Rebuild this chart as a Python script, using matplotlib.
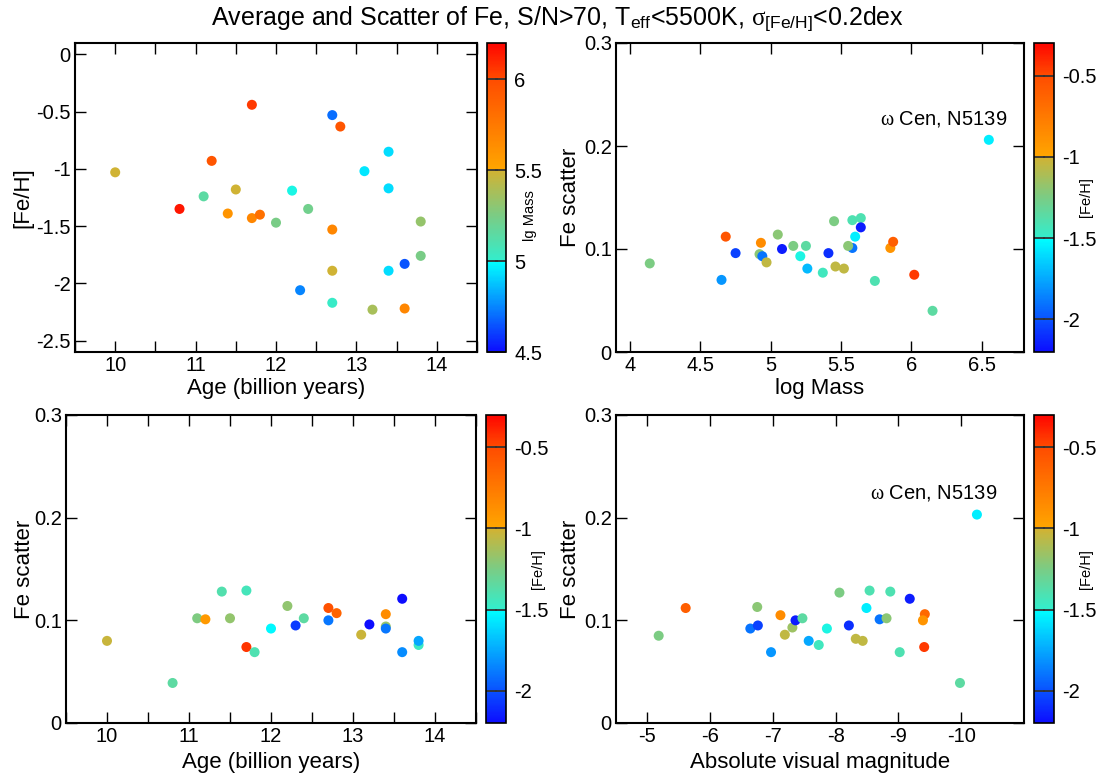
import numpy as np
import matplotlib
matplotlib.use('Agg')
import matplotlib.pyplot as plt
from matplotlib.colors import LinearSegmentedColormap
from matplotlib.ticker import MultipleLocator

plt.rcParams['font.family'] = ['Liberation Sans', 'DejaVu Sans']
plt.rcParams['mathtext.fontset'] = 'custom'
plt.rcParams['mathtext.rm'] = 'Liberation Sans'
plt.rcParams['mathtext.it'] = 'Liberation Serif'

# panel 1: age vs [Fe/H], coloured by lg mass
age1 = [10.0, 10.8, 11.1, 11.2, 11.4, 11.5, 11.7, 11.7, 11.8, 12.0, 12.2, 12.3, 12.4, 12.7,
        12.8, 12.7, 12.7, 12.7, 13.1, 13.2, 13.4, 13.4, 13.4, 13.6, 13.6, 13.8, 13.8]
feh1 = [-1.03, -1.35, -1.24, -0.93, -1.39, -1.18, -0.44, -1.43, -1.40, -1.47, -1.19, -2.06, -1.35, -0.53,
        -0.63, -1.53, -1.89, -2.17, -1.02, -2.23, -0.85, -1.17, -1.89, -2.22, -1.83, -1.46, -1.76]
mass1 = [5.49, 6.15, 5.15, 5.95, 5.6, 5.49, 6.05, 5.68, 5.8, 5.25, 5.0, 4.75, 5.22, 4.7,
         5.95, 5.68, 5.49, 5.02, 4.95, 5.38, 4.93, 4.93, 4.93, 5.68, 4.65, 5.33, 5.25]

# panel 2: log mass vs Fe scatter, coloured by [Fe/H]
mass2 = [4.14, 4.65, 4.68, 4.75, 4.92, 4.93, 4.94, 4.97, 5.05, 5.08, 5.16, 5.25, 5.21, 5.26, 5.37,
         5.41, 5.45, 5.46, 5.52, 5.58, 5.55, 5.58, 5.64, 5.60, 5.64, 5.74, 5.85, 5.87, 6.02, 6.15, 6.55]
sc2 = [0.086, 0.070, 0.112, 0.096, 0.095, 0.106, 0.093, 0.087, 0.114, 0.100, 0.103, 0.103, 0.093, 0.081,
       0.077, 0.096, 0.127, 0.083, 0.081, 0.101, 0.103, 0.128, 0.130, 0.112, 0.121, 0.069, 0.101, 0.107,
       0.075, 0.040, 0.206]
feh2 = [-1.25, -1.8, -0.55, -2.05, -1.2, -0.85, -1.9, -1.05, -1.2, -2.15, -1.25, -1.35, -1.5, -1.7,
        -1.45, -2.1, -1.25, -1.05, -1.05, -1.9, -1.2, -1.4, -1.4, -1.55, -2.15, -1.4, -0.9, -0.6,
        -0.45, -1.35, -1.55]

# panel 3: age vs Fe scatter, coloured by [Fe/H]
age3 = [10.0, 10.8, 11.1, 11.2, 11.4, 11.5, 11.7, 11.7, 11.8, 12.0, 12.2, 12.3, 12.4, 12.7, 12.7,
        12.8, 13.1, 13.2, 13.4, 13.4, 13.4, 13.6, 13.6, 13.8, 13.8]
sc3 = [0.080, 0.039, 0.102, 0.101, 0.128, 0.102, 0.129, 0.074, 0.069, 0.092, 0.114, 0.095, 0.102, 0.112,
       0.100, 0.107, 0.086, 0.096, 0.106, 0.094, 0.092, 0.121, 0.069, 0.076, 0.080]
feh3 = [-1.03, -1.35, -1.24, -0.93, -1.39, -1.18, -1.43, -0.44, -1.40, -1.52, -1.19, -2.06, -1.35, -0.53,
        -1.89, -0.63, -1.02, -2.23, -0.85, -1.17, -1.89, -2.22, -1.83, -1.46, -1.76]

# panel 4: absolute visual magnitude vs Fe scatter, coloured by [Fe/H]
mv4 = [-5.18, -5.61, -6.64, -6.76, -6.75, -6.97, -7.12, -7.19, -7.31, -7.36, -7.47, -7.57, -7.73, -7.86,
       -8.06, -8.21, -8.32, -8.43, -8.54, -8.49, -8.70, -8.81, -8.87, -9.02, -9.18, -9.42, -9.39, -9.41,
       -9.98, -10.25]
sc4 = [0.085, 0.112, 0.092, 0.095, 0.113, 0.069, 0.105, 0.086, 0.093, 0.100, 0.102, 0.080, 0.076, 0.092,
       0.127, 0.095, 0.082, 0.080, 0.129, 0.112, 0.101, 0.102, 0.128, 0.069, 0.121, 0.106, 0.100, 0.074,
       0.039, 0.203]
feh4 = [-1.25, -0.6, -1.9, -2.05, -1.2, -1.8, -0.85, -1.05, -1.15, -2.15, -1.35, -1.75, -1.45, -1.5,
        -1.25, -2.1, -1.05, -1.05, -1.4, -1.55, -1.9, -1.2, -1.4, -1.4, -2.15, -0.65, -0.9, -0.45,
        -1.35, -1.55]

mass_ticks = [4.5, 5, 5.5, 6]
feh_ticks = [-2, -1.5, -1, -0.5]

TICK = 14.5
LAB = 16
DOT = 52


def make_cmap(vmin, vmax, b1, b2, b3):
    f = lambda v: (v - vmin) / (vmax - vmin)
    e = 0.002
    stops = [(0.0, (0.05, 0.05, 1.0)),
             (f(b1) - e, (0.0, 1.0, 1.0)),
             (f(b1) + e, (0.2, 0.93, 0.8)),
             ((f(b1) + f(b2)) / 2, (0.48, 0.8, 0.52)),
             (f(b2) - e, (0.82, 0.7, 0.2)),
             (f(b2) + e, (1.0, 0.65, 0.0)),
             (f(b3), (1.0, 0.3, 0.0)),
             (1.0, (1.0, 0.02, 0.0))]
    return LinearSegmentedColormap.from_list('seg', stops)


W, H = 1099, 775
fig = plt.figure(figsize=(W / 100, H / 100), dpi=100)


def box(l, r, t, b):
    return [l / W, 1 - b / H, (r - l) / W, (b - t) / H]


def style(ax, ylx):
    ax.tick_params(direction='in', top=True, right=True, length=8, width=1,
                   labelsize=TICK, pad=3, which='both')
    for s in ax.spines.values():
        s.set_linewidth(1.5)
    ax.yaxis.set_label_coords(ylx, 0.5)


def add_cbar(sc, pos, ticks, label, lx, ly):
    cax = fig.add_axes(pos)
    cb = fig.colorbar(sc, cax=cax)
    cb.set_ticks(ticks)
    cb.set_ticklabels([('%g' % t) for t in ticks])
    cax.tick_params(direction='in', left=True, right=True, length=8, width=1.3,
                    color='0.2', labelsize=TICK, pad=6)
    cb.outline.set_linewidth(1.2)
    cax.text(lx, ly, label, rotation=90, transform=cax.transAxes,
             ha='center', va='center', fontsize=10.5)


cm_mass = make_cmap(4.5, 6.2, 5.0, 5.5, 6.0)
cm_feh = make_cmap(-2.2, -0.3, -1.5, -1.0, -0.5)

# panel 1
ax1 = fig.add_axes(box(75, 477, 43, 352))
s1 = ax1.scatter(age1, feh1, c=mass1, cmap=cm_mass, vmin=4.5, vmax=6.2, s=DOT, edgecolors='none')
ax1.set_xlim(9.5, 14.5)
ax1.set_ylim(-2.6, 0.1)
ax1.xaxis.set_major_locator(MultipleLocator(1))
ax1.xaxis.set_minor_locator(MultipleLocator(0.5))
ax1.set_yticks([0, -0.5, -1, -1.5, -2, -2.5])
ax1.set_yticklabels(['0', '-0.5', '-1', '-1.5', '-2', '-2.5'])
ax1.set_xlabel('Age (billion years)', fontsize=LAB, labelpad=2)
ax1.set_ylabel('[Fe/H]', fontsize=LAB)
style(ax1, -0.104)
add_cbar(s1, box(487, 506, 43, 352), mass_ticks, 'lg Mass', 2.26, 0.443)

# panel 2
ax2 = fig.add_axes(box(616, 1024, 43, 352))
s2 = ax2.scatter(mass2, sc2, c=feh2, cmap=cm_feh, vmin=-2.2, vmax=-0.3, s=DOT, edgecolors='none')
ax2.set_xlim(3.9, 6.8)
ax2.set_ylim(0, 0.3)
ax2.set_yticks([0, 0.1, 0.2, 0.3])
ax2.set_yticklabels(['0', '0.1', '0.2', '0.3'])
ax2.set_xticks([4, 4.5, 5, 5.5, 6, 6.5])
ax2.set_xticklabels(['4', '4.5', '5', '5.5', '6', '6.5'])
ax2.set_xlabel('log Mass', fontsize=LAB, labelpad=2)
ax2.set_ylabel('Fe scatter', fontsize=LAB)
ax2.text(6.68, 0.226, r'$\omega$ Cen, N5139', ha='right', va='center', fontsize=14.5)
style(ax2, -0.085)
add_cbar(s2, box(1034, 1054, 43, 352), feh_ticks, '[Fe/H]', 2.6, 0.5)

# panel 3
ax3 = fig.add_axes(box(66, 476, 415, 723))
s3 = ax3.scatter(age3, sc3, c=feh3, cmap=cm_feh, vmin=-2.2, vmax=-0.3, s=DOT, edgecolors='none')
ax3.set_xlim(9.5, 14.5)
ax3.set_ylim(0, 0.3)
ax3.xaxis.set_major_locator(MultipleLocator(1))
ax3.xaxis.set_minor_locator(MultipleLocator(0.5))
ax3.set_yticks([0, 0.1, 0.2, 0.3])
ax3.set_yticklabels(['0', '0.1', '0.2', '0.3'])
ax3.set_xlabel('Age (billion years)', fontsize=LAB, labelpad=4)
ax3.set_ylabel('Fe scatter', fontsize=LAB)
style(ax3, -0.076)
add_cbar(s3, box(486, 506, 415, 723), feh_ticks, '[Fe/H]', 2.6, 0.5)

# panel 4
ax4 = fig.add_axes(box(616, 1024, 415, 723))
s4 = ax4.scatter(mv4, sc4, c=feh4, cmap=cm_feh, vmin=-2.2, vmax=-0.3, s=DOT, edgecolors='none')
ax4.set_xlim(-4.5, -11)
ax4.set_ylim(0, 0.3)
ax4.set_xticks([-5, -6, -7, -8, -9, -10])
ax4.set_xticklabels(['-5', '-6', '-7', '-8', '-9', '-10'])
ax4.set_yticks([0, 0.1, 0.2, 0.3])
ax4.set_yticklabels(['0', '0.1', '0.2', '0.3'])
ax4.set_xlabel('Absolute visual magnitude', fontsize=LAB, labelpad=4)
ax4.set_ylabel('Fe scatter', fontsize=LAB)
ax4.text(-10.57, 0.2245, r'$\omega$ Cen, N5139', ha='right', va='center', fontsize=14.5)
style(ax4, -0.085)
add_cbar(s4, box(1034, 1054, 415, 723), feh_ticks, '[Fe/H]', 2.6, 0.5)

fig.text(558 / W, 1 - 19 / H,
         r'Average and Scatter of Fe, S/N>70, T$_{\mathrm{eff}}$<5500K, $\sigma_{\mathrm{[Fe/H]}}$<0.2dex',
         ha='center', va='center', fontsize=18)

fig.savefig('out.png', dpi=100)
